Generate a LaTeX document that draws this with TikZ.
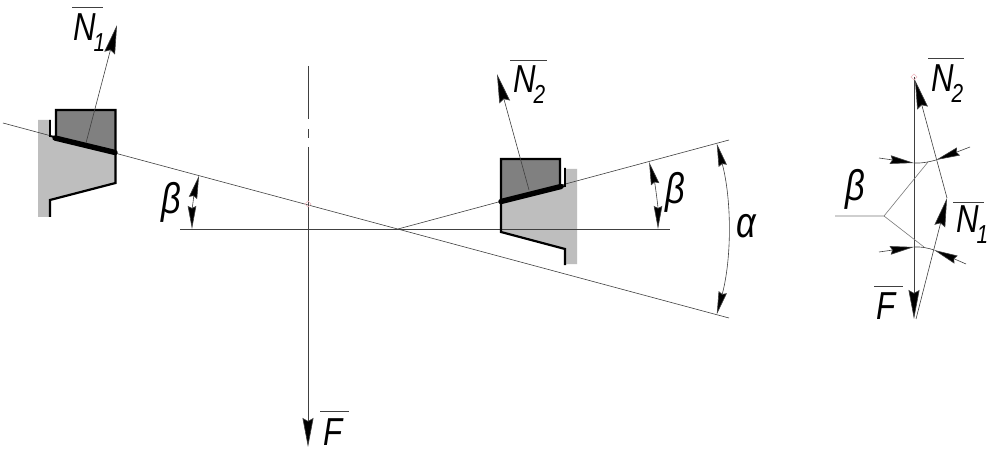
\documentclass[tikz,border=0pt]{standalone}
\usepackage{fontspec}
\setmainfont{Liberation Sans}
\usetikzlibrary{arrows.meta}
\definecolor{lightg}{HTML}{BEBEBE}
\definecolor{darkg}{HTML}{808080}
\definecolor{thin}{HTML}{404040}
\definecolor{pinkm}{HTML}{F0B8C0}
\tikzset{
  lab/.style={anchor=base west,inner sep=0pt,outer sep=0pt,xscale=.8,font=\fontsize{39}{39}\selectfont\itshape},
  greek/.style={lab,font=\fontsize{43}{43}\selectfont\itshape},
  thinline/.style={draw=thin,line width=.6pt},
  outline/.style={draw=black,line width=2.2pt,line join=miter},
  seat/.style={draw=black,line width=5.4pt,line cap=round},
  bar/.style={draw=thin,line width=.7pt},
  force/.style={thinline,-{Stealth[length=29pt,width=11pt,inset=3pt,fill=black]}},
  dimboth/.style={thinline,{Stealth[length=23pt,width=8.5pt,inset=2pt,fill=black]}-{Stealth[length=23pt,width=8.5pt,inset=2pt,fill=black]}},
  pointer/.style={thinline,-{Stealth[length=24pt,width=8.5pt,inset=2pt,fill=black]}}
}
\newcommand{\subs}[1]{\kern-2.5pt\raisebox{-.27em}{\fontsize{26}{26}\selectfont #1}}
\begin{document}
\begin{tikzpicture}[x=1pt,y=-1pt]
\useasboundingbox (0,0) rectangle (996,465);
\fill[white] (0,0) rectangle (996,465);
% key points
\coordinate (O) at (398,229);
\coordinate (L) at (3,123);
\coordinate (RU) at (729,140);
\coordinate (RD) at (729,318);
\coordinate (HL) at (180,229);
\coordinate (HR) at (670,229);
% fills left
\fill[lightg] (38,120) -- (50,120) -- (50,136) -- (116,153) -- (116,183) -- (50,200) -- (50,217) -- (38,217) -- cycle;
\fill[darkg] (56,110) -- (115.5,110) -- (115.5,152) -- (56,137) -- cycle;
% fills right
\fill[lightg] (501,202) -- (560,187) -- (565,186) -- (565,169) -- (577,169) -- (577,264) -- (565,264) -- (565,249) -- (501,232) -- cycle;
\fill[darkg] (501,159) -- (560,159) -- (560,187) -- (501,202) -- cycle;
% main lines
\draw[thinline] (L) -- (RD);
\draw[thinline] (O) -- (RU);
\draw[thinline] (HL) -- (HR);
\draw[thinline] (308,66) -- (308,119);
\draw[thinline] (308,129) -- (308,138);
\coordinate (Ftop) at (308,147);
\coordinate (Ftip) at (308,447);
\draw[force] (Ftop) -- (Ftip);
% left block
\draw[outline] (56,137) -- (56,110) -- (115.5,110) -- (115.5,183) -- (50,200) -- (50,217);
\draw[draw=black,line width=1.8pt] (50,120) -- (50,136) -- (55,137);
\draw[seat] (55,138) -- (115,152.5);
\coordinate (N1s) at (86,143);
\coordinate (N1t) at (117,25);
\draw[force] (N1s) -- (N1t);
% right block
\draw[outline] (560,187) -- (560,159) -- (501,159) -- (501,232) -- (565,249) -- (565,265);
\draw[draw=black,line width=1.8pt] (565,168) -- (565,186) -- (560,187);
\draw[seat] (501,201.5) -- (561,186.5);
\coordinate (N2s) at (529,190);
\coordinate (N2t) at (497,74);
\draw[force] (N2s) -- (N2t);
% angle dimensions
\draw[dimboth] (649.1,162) .. controls (655,183.6) and (658,206.3) .. (658,229);
\draw[dimboth] (716.8,143.6) .. controls (731.8,199.5) and (731.8,258.5) .. (716.8,314.4);
\draw[dimboth] (199,175.7) .. controls (194.3,193) and (192,211) .. (192,229);
% force triangle
\coordinate (T) at (914,77);
\coordinate (B) at (914,319);
\coordinate (M) at (947,198);
\draw[force] (T) -- (B);
\draw[force] (916,319) -- (M);
\draw[force] (M) -- (915,80);
% leader beta
\coordinate (J) at (884,216);
\draw[thinline,draw=thin!70] (835,216) -- (J) -- (928,162);
\draw[thinline,draw=thin!70] (J) -- (924,247);
\draw[thinline] (914,163) .. controls (921,163.5) and (929,162) .. (936,160);
\draw[thinline] (914,247) .. controls (921,246.5) and (928,248) .. (934,250);
\draw[pointer] (879,158) -- (914,163);
\draw[pointer] (970,147) -- (936,160);
\draw[pointer] (879,252) -- (914,247);
\draw[pointer] (966,264) -- (934,250);
% pink marks
\draw[pinkm,line width=.6pt] (308,201) -- (311,204) -- (308,207) -- (305,204) -- cycle;
\draw[pinkm,line width=.6pt] (914,74) -- (917,77) -- (914,80) -- (911,77) -- cycle;
% labels
\node[lab] (n1a) at (73,41) {N\subs{1}};
\draw[bar] (72,7) -- (103,7);
\node[lab] (n2a) at (513,93) {N\subs{2}};
\draw[bar] (510,60) -- (547,60);
\node[lab] (fa) at (323,445) {F};
\draw[bar] (320,411) -- (349,411);
\node[greek] (b1) at (161,214) {β};
\node[greek] (b2) at (665,204) {β};
\node[greek] (al) at (736,238) {α};
\node[greek] (b3) at (845,201) {β};
\node[lab] (n2b) at (931,92) {N\subs{2}};
\draw[bar] (928,58) -- (964,58);
\node[lab] (n1b) at (956,233) {N\subs{1}};
\draw[bar] (953,202) -- (984,202);
\node[lab] (fb) at (876,319) {F};
\draw[bar] (874,286) -- (903,286);
\end{tikzpicture}
\end{document}
